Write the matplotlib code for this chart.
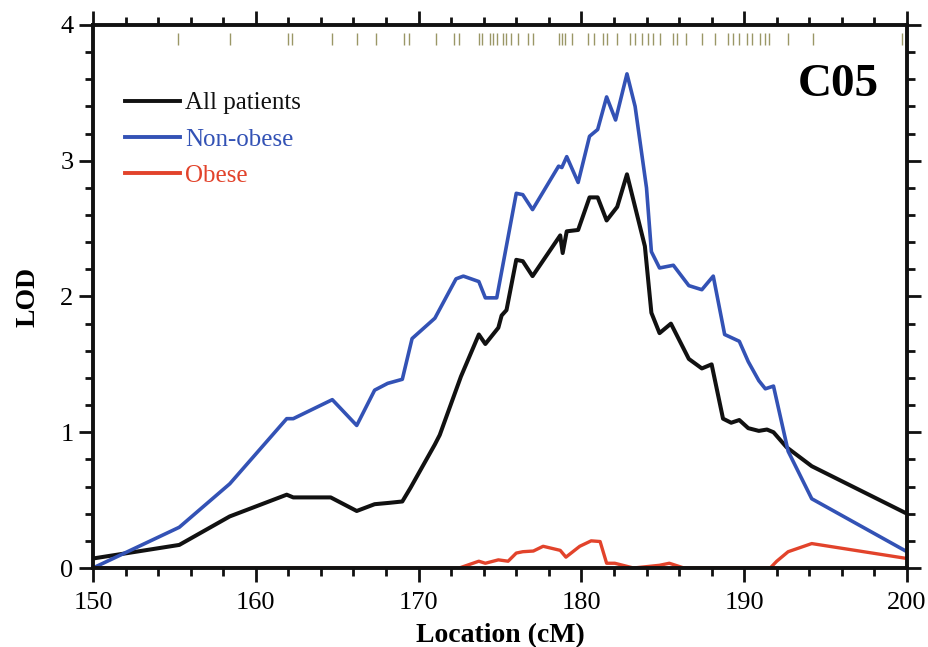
import matplotlib
matplotlib.use("Agg")
import matplotlib.pyplot as plt
from matplotlib.ticker import MultipleLocator

# marker positions along the chromosome (cM)
markers = [155.2, 158.4, 162.0, 162.2, 164.7, 166.2, 167.4, 169.1, 169.4, 171.1,
           172.2, 172.5, 173.7, 173.9, 174.4, 174.6, 174.8, 175.2, 175.4, 175.7,
           176.1, 176.7, 177.0, 178.6, 178.8, 179.0, 179.4, 180.4, 180.8, 181.3,
           181.6, 182.2, 183.0, 183.3, 183.7, 184.1, 184.4, 184.8, 185.6, 185.9,
           186.4, 187.4, 188.2, 189.0, 189.3, 189.7, 190.2, 190.5, 191.0, 191.3,
           191.5, 192.7, 194.2, 199.7]

all_x = [150.0, 155.3, 158.4, 161.9, 162.3, 164.6, 166.2, 167.3, 168.2, 169.0,
         169.5, 171.0, 171.3, 172.6, 173.7, 174.1, 174.9, 175.1, 175.4, 176.0,
         176.4, 177.0, 178.7, 178.85, 179.1, 179.8, 180.5, 181.0, 181.55, 182.2,
         182.8, 183.9, 184.3, 184.8, 185.5, 186.6, 187.4, 188.0, 188.7, 189.2,
         189.7, 190.25, 190.9, 191.4, 191.8, 192.6, 194.15, 200.0]
all_lod = [0.07, 0.17, 0.38, 0.54, 0.52, 0.52, 0.42, 0.47, 0.48, 0.49,
           0.59, 0.91, 0.98, 1.41, 1.72, 1.65, 1.77, 1.86, 1.90, 2.27,
           2.26, 2.15, 2.45, 2.32, 2.48, 2.49, 2.73, 2.73, 2.56, 2.66,
           2.90, 2.37, 1.88, 1.73, 1.80, 1.54, 1.47, 1.50, 1.10, 1.07,
           1.09, 1.03, 1.01, 1.02, 1.00, 0.89, 0.75, 0.40]

nonob_x = [150.0, 155.3, 158.4, 161.9, 162.3, 164.7, 166.2, 167.3, 168.1, 169.0,
           169.6, 171.0, 172.3, 172.75, 173.7, 174.1, 174.8, 176.0, 176.4, 177.0,
           178.6, 178.8, 179.1, 179.8, 180.5, 181.0, 181.55, 182.1, 182.8, 183.3,
           184.0, 184.3, 184.8, 185.65, 186.6, 187.4, 188.1, 188.8, 189.7, 190.25,
           190.9, 191.3, 191.8, 192.7, 194.15, 200.0]
nonob_lod = [0.0, 0.30, 0.62, 1.10, 1.10, 1.24, 1.05, 1.31, 1.36, 1.39,
             1.69, 1.84, 2.13, 2.15, 2.11, 1.99, 1.99, 2.76, 2.75, 2.64,
             2.96, 2.95, 3.03, 2.84, 3.18, 3.23, 3.47, 3.30, 3.64, 3.40,
             2.80, 2.33, 2.21, 2.23, 2.08, 2.05, 2.15, 1.72, 1.67, 1.52,
             1.38, 1.32, 1.34, 0.86, 0.51, 0.12]

obese_x = [150.0, 172.5, 173.7, 174.1, 174.9, 175.5, 176.0, 176.4, 177.05, 177.65,
           178.7, 179.05, 179.9, 180.6, 181.15, 181.55, 182.05, 183.2, 184.8, 185.4,
           186.3, 191.6, 192.0, 192.7, 194.15, 200.0]
obese_lod = [0.0, 0.0, 0.05, 0.035, 0.06, 0.05, 0.11, 0.12, 0.125, 0.16,
             0.13, 0.08, 0.16, 0.20, 0.195, 0.035, 0.035, 0.0, 0.02, 0.035,
             0.0, 0.0, 0.05, 0.12, 0.18, 0.07]

plt.rcParams["font.family"] = ["Liberation Serif", "DejaVu Serif"]

fig = plt.figure(figsize=(9.29, 6.47), dpi=100)
ax = fig.add_axes([0.1001, 0.1221, 0.8762, 0.8393])

ax.vlines(markers, 3.85, 3.94, color="#9a9766", lw=1)
ax.plot(all_x, all_lod, color="#111111", lw=2.9, label="All patients")
ax.plot(nonob_x, nonob_lod, color="#3352b5", lw=2.6, label="Non-obese")
ax.plot(obese_x, obese_lod, color="#e2432b", lw=2.4, label="Obese")

ax.set_xlim(150, 200)
ax.set_ylim(0, 4)
ax.xaxis.set_major_locator(MultipleLocator(10))
ax.xaxis.set_minor_locator(MultipleLocator(2))
ax.yaxis.set_major_locator(MultipleLocator(1))
ax.yaxis.set_minor_locator(MultipleLocator(0.2))
ax.tick_params(which="both", direction="out", top=True, right=True,
               width=2, labelsize=19, color="#111111")
ax.tick_params(which="major", length=10)
ax.tick_params(which="minor", length=6)
ax.tick_params(axis="x", pad=7)
ax.tick_params(axis="y", pad=4)
for sp in ax.spines.values():
    sp.set_linewidth(2.8)
    sp.set_color("#111111")
    sp.set_zorder(3)

ax.set_xlabel("Location (cM)", fontsize=20, fontweight="bold", labelpad=7)
ax.set_ylabel("LOD", fontsize=20, fontweight="bold", labelpad=14)

ax.text(0.965, 0.89, "C05", transform=ax.transAxes, ha="right", va="center",
        fontsize=34, fontweight="bold")

leg = ax.legend(loc="upper left", bbox_to_anchor=(0.039, 0.877), frameon=False,
                fontsize=18, handlelength=2.2, handletextpad=0.2,
                labelspacing=0.55, borderpad=0, borderaxespad=0,
                labelcolor="linecolor")
for h in leg.legend_handles:
    h.set_linewidth(2.8)

fig.savefig("out.png", dpi=100)
